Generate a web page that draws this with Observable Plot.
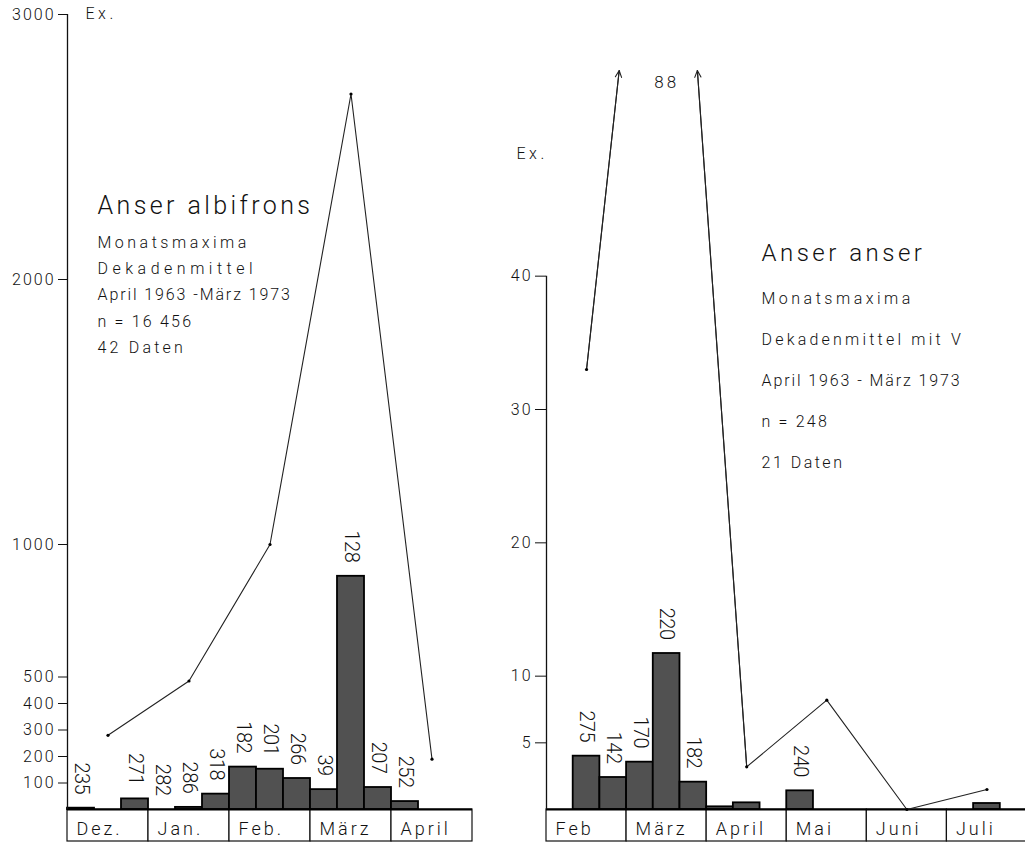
<!DOCTYPE html>
<html>
<head>
<meta charset="utf-8">
<script src="https://cdn.jsdelivr.net/npm/d3@7"></script>
<script src="https://cdn.jsdelivr.net/npm/@observablehq/plot@0.6"></script>
<style>
  html, body { margin: 0; padding: 0; background: #fff; overflow: hidden; }
  #wrap { position: relative; width: 1025px; height: 842px; overflow: hidden; background: #fff; }
  #wrap svg { position: absolute; top: 0; overflow: visible; }
  #wrap svg text { font-family: Roboto, "Liberation Sans", Arial, sans-serif; font-weight: 300; fill: #111; }
</style>
</head>
<body>
<div id="wrap"></div>
<script>
// ---------------- DATA ----------------
// Left panel: Anser albifrons (Dez. – April), decade means, n per decade, monthly maxima
const albMonths = ["Dez.", "Jan.", "Feb.", "März", "April"];
const albDecadeMeans = [5, 0, 40, 0, 8, 58, 160, 152, 117, 75, 880, 83, 30, 0, 0];
const albDecadeN = [235, null, 271, 282, 286, 318, 182, 201, 266, 39, 128, 207, 252, null, null];
const albMonthMax = [280, 485, 1000, 2700, 190];
const albTicks = [100, 200, 300, 400, 500, 1000, 2000, 3000];
const albTitle = "Anser albifrons";
const albNotes = ["Monatsmaxima", "Dekadenmittel", "April 1963 -März 1973", "n = 16 456", "42 Daten"];

// Right panel: Anser anser (Feb – Juli)
const ansMonths = ["Feb", "März", "April", "Mai", "Juni", "Juli"];
const ansDecadeMeans = [0, 4, 2.4, 3.55, 11.7, 2.05, 0.2, 0.5, 0, 1.4, 0, 0, 0, 0, 0, 0, 0.45, 0];
const ansDecadeN = [null, 275, 142, 170, 220, 182, null, null, null, 240, null, null, null, null, null, null, null, null];
const ansMonthMax = [33, 88, 3.2, 8.2, 0, 1.5];
const ansTicks = [5, 10, 20, 30, 40];
const ansTitle = "Anser anser";
const ansNotes = ["Monatsmaxima", "Dekadenmittel mit V", "April 1963 - März 1973", "n = 248", "21 Daten"];

const unitLabel = "Ex.";

// ---------------- STYLES / LAYOUT ----------------
const albNoteSpacing = [3.5, 4.5, 1.9, 2.2, 3.2];
const ansNoteSpacing = [3.5, 3.2, 1.9, 2.2, 2.5];
const barFill = "#515151";

function decadeRows(means, ns) {
  return means.map((v, i) => ({i, v, n: ns[i]}));
}

function notesMarks(title, lines, o) {
  return [
    Plot.text([title], {text: d => d, frameAnchor: "top-left", textAnchor: "start", lineAnchor: "middle",
      dx: o.dx, dy: o.titleDy, fontSize: o.titleSize}),
    ...lines.map((t, i) => Plot.text([t], {text: d => d, frameAnchor: "top-left", textAnchor: "start",
      lineAnchor: "middle", dx: o.dx, dy: o.firstDy + i * o.step, fontSize: o.size}))
  ];
}

function panel(cfg) {
  const pxPerUnit = cfg.pxPerUnit;
  const yMax = (cfg.yZero - cfg.frameTop) / pxPerUnit;
  const yMin = -(cfg.bottom - cfg.yZero) / pxPerUnit;
  const nDec = cfg.months.length * 3;
  const bars = decadeRows(cfg.means, cfg.ns);
  const maxPts = cfg.monthMax.map((v, m) => ({x: 3 * m + 1.5, y: v}));
  const visible = maxPts.filter(d => d.y <= yMax);
  const over = maxPts.filter(d => d.y > yMax);
  // arrows for segments leaving the frame at the top
  const arrows = [];
  for (let k = 0; k < maxPts.length - 1; k++) {
    const a = maxPts[k], b = maxPts[k + 1];
    if ((a.y > yMax) !== (b.y > yMax)) {
      const lo = a.y > yMax ? b : a, hi = a.y > yMax ? a : b;
      const t = (yMax - lo.y) / (hi.y - lo.y);
      arrows.push({x1: lo.x, y1: lo.y, x2: lo.x + t * (hi.x - lo.x), y2: yMax});
    }
  }
  const svg = Plot.plot({
    width: cfg.width, height: 842,
    marginLeft: cfg.marginLeft, marginRight: cfg.marginRight, marginTop: cfg.frameTop, marginBottom: 842 - cfg.bottom,
    x: {domain: [0, nDec], axis: null},
    y: {domain: [yMin, yMax], axis: null},
    style: {background: "transparent", color: "#111"},
    marks: [
      // month boxes below the baseline
      Plot.rect(cfg.months, {x1: (d, i) => 3 * i, x2: (d, i) => 3 * i + 3, y1: yMin, y2: 0,
        fill: "white", stroke: "#111", strokeWidth: 1.2}),
      Plot.text(cfg.months, {x: (d, i) => 3 * i, y: yMin / 2, text: d => d, textAnchor: "start",
        lineAnchor: "middle", dx: 9, dy: 4, fontSize: 18}),
      // decade bars
      Plot.rect(bars.filter(d => d.v > 0), {x1: d => d.i, x2: d => d.i + 1, y1: 0, y2: d => d.v,
        fill: barFill, stroke: "#000", strokeWidth: 1.8}),
      Plot.ruleY([0], {stroke: "#000", strokeWidth: 2.2}),
      // y axis
      Plot.ruleX([0], {y1: 0, y2: cfg.axisTop, stroke: "#111", strokeWidth: 1.3}),
      Plot.axisY({ticks: cfg.ticks, tickSize: cfg.tickSize, tickPadding: 3, fontSize: cfg.tickFont, label: null, tickFormat: d => String(d)}),
      // n labels above bars
      Plot.text(bars.filter(d => d.n != null), {x: d => d.i + 0.5, y: d => d.v, text: d => String(d.n),
        rotate: 90, textAnchor: "end", lineAnchor: "middle", dy: -14, fontSize: 20}),
      // monthly maxima line
      Plot.line(maxPts, {x: "x", y: "y", stroke: "#222", strokeWidth: 1.1, clip: true}),
      Plot.arrow(arrows, {x1: "x1", y1: "y1", x2: "x2", y2: "y2", stroke: "#222", strokeWidth: 1.1, headLength: 10, headAngle: 50}),
      Plot.dot(visible, {x: "x", y: "y", r: 1.6, fill: "#000"}),
      Plot.text(over, {x: "x", y: yMax, text: d => String(d.y), dy: 12, fontSize: 17, lineAnchor: "middle"}),
      // unit label
      Plot.text([unitLabel], {text: d => d, frameAnchor: "top-left", textAnchor: "start", lineAnchor: "middle",
        dx: cfg.exDx, dy: cfg.exDy, fontSize: 16}),
      ...notesMarks(cfg.title, cfg.notes, cfg.noteOpts)
    ]
  });
  svg.style.left = cfg.left + "px";

  // letter spacing (the original lettering is widely spaced)
  const spacing = new Map();
  cfg.months.forEach(m => spacing.set(m, 3));
  spacing.set(unitLabel, 3.5);
  spacing.set(cfg.title, cfg.titleSpacing);
  cfg.notes.forEach((t, i) => spacing.set(t, cfg.noteSpacing[i]));
  over.forEach(d => spacing.set(String(d.y), 3));
  const s = d3.select(svg);
  s.selectAll("text").each(function () {
    const tr = this.getAttribute("transform") || "";
    if (tr.includes("rotate")) { this.style.letterSpacing = "-0.5px"; return; }
    const txt = this.textContent;
    if (spacing.has(txt)) this.style.letterSpacing = spacing.get(txt) + "px";
  });
  s.selectAll('g[aria-label="y-axis tick label"] text').style("letter-spacing", "2px");
  return svg;
}

const wrap = document.getElementById("wrap");

wrap.appendChild(panel({
  left: 0, width: 480, marginLeft: 67, marginRight: 8,
  yZero: 809, frameTop: 14, bottom: 841, pxPerUnit: (809 - 14) / 3000, axisTop: 3000,
  months: albMonths, means: albDecadeMeans, ns: albDecadeN, monthMax: albMonthMax,
  ticks: albTicks, tickSize: 9, tickFont: 16,
  exDx: 18, exDy: -1,
  title: albTitle, notes: albNotes, titleSpacing: 3.4, noteSpacing: albNoteSpacing,
  noteOpts: {dx: 30, titleDy: 191, titleSize: 25, firstDy: 228, step: 26.3, size: 16}
}));

wrap.appendChild(panel({
  left: 480, width: 548, marginLeft: 66, marginRight: 1.5,
  yZero: 809, frameTop: 70, bottom: 841, pxPerUnit: 400 / 30, axisTop: 40,
  months: ansMonths, means: ansDecadeMeans, ns: ansDecadeN, monthMax: ansMonthMax,
  ticks: ansTicks, tickSize: 11, tickFont: 16,
  exDx: -30, exDy: 83,
  title: ansTitle, notes: ansNotes, titleSpacing: 3.5, noteSpacing: ansNoteSpacing,
  noteOpts: {dx: 215, titleDy: 183, titleSize: 24, firstDy: 228, step: 41, size: 16}
}));
</script>
</body>
</html>
